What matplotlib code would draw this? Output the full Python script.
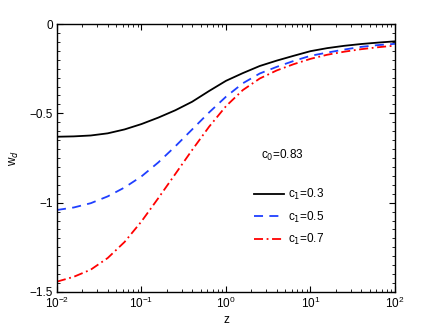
import matplotlib
matplotlib.use('Agg')
import matplotlib.pyplot as plt
from matplotlib.ticker import MultipleLocator, LogLocator, NullFormatter

plt.rcParams['font.family'] = ['Liberation Sans', 'DejaVu Sans']

# values (0.2-decade steps in z)
z = [0.01, 0.0158, 0.0251, 0.0398, 0.0631, 0.1, 0.158, 0.251, 0.398, 0.631,
     1, 1.58, 2.51, 3.98, 6.31, 10, 15.8, 25.1, 39.8, 63.1, 100]
w_c1_03 = [-0.631, -0.629, -0.624, -0.612, -0.590, -0.560, -0.524, -0.483, -0.435, -0.375,
           -0.318, -0.275, -0.235, -0.205, -0.178, -0.152, -0.135, -0.122, -0.112, -0.104, -0.097]
w_c1_05 = [-1.041, -1.027, -1.003, -0.965, -0.915, -0.853, -0.775, -0.685, -0.590, -0.495,
           -0.407, -0.332, -0.277, -0.240, -0.207, -0.178, -0.160, -0.143, -0.128, -0.118, -0.111]
w_c1_07 = [-1.442, -1.415, -1.375, -1.310, -1.220, -1.105, -0.975, -0.840, -0.705, -0.575,
           -0.460, -0.370, -0.305, -0.260, -0.225, -0.195, -0.172, -0.155, -0.141, -0.130, -0.121]
labels = ['c$_1$=0.3', 'c$_1$=0.5', 'c$_1$=0.7']
note = 'c$_0$=0.83'

fig = plt.figure(figsize=(4.36, 3.28), dpi=100)
ax = fig.add_axes([0.1307, 0.1098, 0.7752, 0.817])

ax.plot(z, w_c1_03, color='black', lw=1.3, ls='-', label=labels[0])
ax.plot(z, w_c1_05, color='#1f3fff', lw=1.3, ls=(0, (5, 3.5)), label=labels[1])
ax.plot(z, w_c1_07, color='#ff0000', lw=1.3, ls=(0, (5, 2, 1, 2)), label=labels[2])

ax.set_xscale('log')
ax.set_xlim(1e-2, 1e2)
ax.set_ylim(-1.5, 0)
ax.set_yticks([-1.5, -1, -0.5, 0])
ax.set_yticklabels(['\u22121.5', '\u22121', '\u22120.5', '0'])
ax.yaxis.set_minor_locator(MultipleLocator(0.05))
ax.xaxis.set_minor_locator(LogLocator(base=10, subs=range(2, 10)))
ax.xaxis.set_minor_formatter(NullFormatter())

ax.tick_params(which='both', direction='in', top=True, right=True, labelsize=8.5, pad=3)
ax.tick_params(which='major', length=4, width=0.8)
ax.tick_params(which='minor', length=2, width=0.6)
for s in ax.spines.values():
    s.set_linewidth(1.0)

ax.set_xlabel('z', fontsize=8.5, labelpad=2)
ax.set_ylabel('w$_d$', fontsize=8.5, labelpad=6)

ax.text(0.605, 0.495, note, transform=ax.transAxes, fontsize=8.5)
ax.legend(loc='upper left', bbox_to_anchor=(0.55, 0.43), frameon=False,
          fontsize=8.5, handlelength=2.6, handletextpad=0.3, labelspacing=0.6)

fig.savefig('out.png', dpi=100)
